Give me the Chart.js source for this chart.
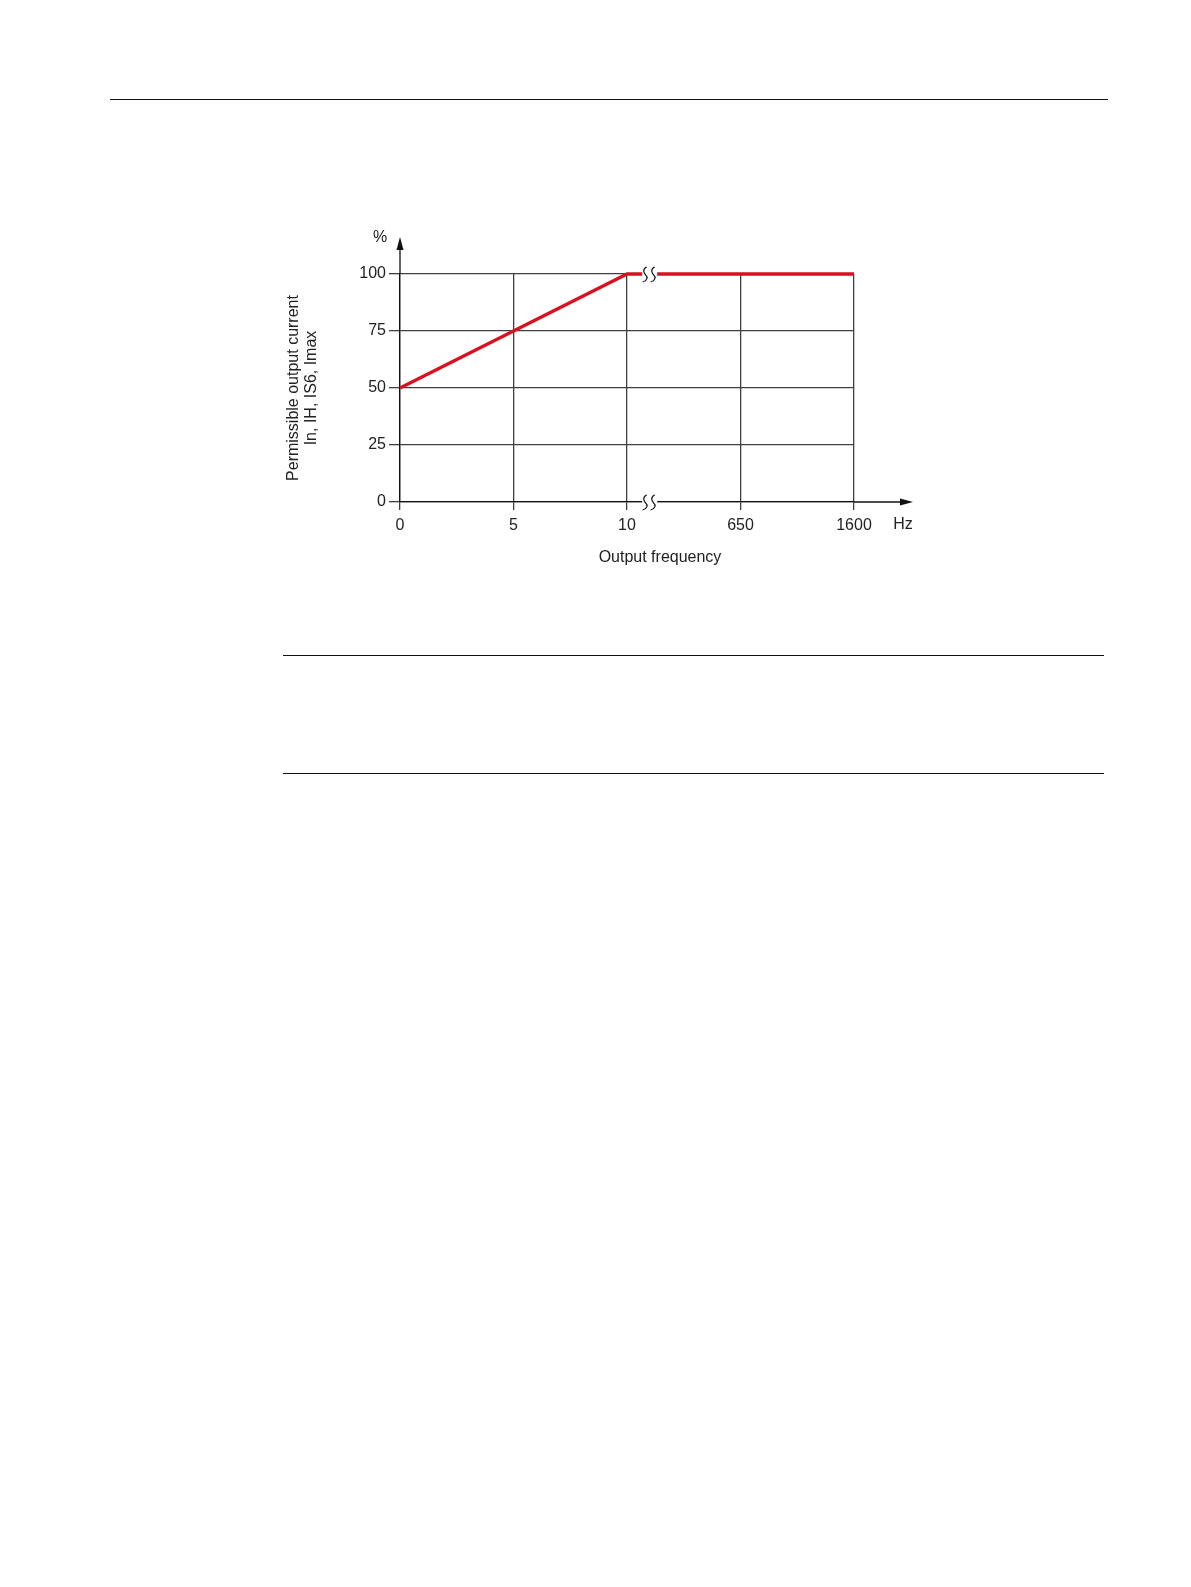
<!DOCTYPE html>
<html>
<head>
<meta charset="utf-8">
<script src="https://cdn.jsdelivr.net/npm/chart.js@4/dist/chart.umd.min.js"></script>
<style>
  html, body { margin: 0; padding: 0; background: #fff; }
  .page { position: relative; width: 1191px; height: 1587px; overflow: hidden; background: #fff; }
  .rule { position: absolute; height: 1px; background: #111; }
  .fig { position: absolute; left: 270px; top: 220px; width: 660px; height: 370px; }
</style>
</head>
<body>
<div class="page">
  <div class="rule" style="left:110px; top:99px; width:998px;"></div>
  <div class="fig"><canvas id="derating"></canvas></div>
  <div class="rule" style="left:283px; top:655px; width:821px;"></div>
  <div class="rule" style="left:283px; top:773px; width:821px;"></div>
</div>
<script>
// Output frequency (Hz) — axis is broken between 10 and 650, so categories
const freqLabels = ['0', '5', '10', '650', '1600'];
// Permissible output current In, IH, IS6, Imax (%)
const permissibleCurrent = [50, 75, 100, 100, 100];
const yTitleLines = ['Permissible output current', 'In, IH, IS6, Imax'];

const FONT = "'Liberation Sans', Arial, sans-serif";
const TXT = '#222';
const GRID = '#404040';
const RED = '#d81020';

// arrows, axis break marks and loose labels
const extras = {
  id: 'extras',
  afterDraw(chart) {
    const { ctx, chartArea: a, scales: { x, y } } = chart;
    ctx.save();
    ctx.strokeStyle = '#111';
    ctx.fillStyle = '#111';
    ctx.lineWidth = 1.3;

    // y axis arrow
    ctx.beginPath(); ctx.moveTo(a.left, a.top); ctx.lineTo(a.left, a.top - 30); ctx.stroke();
    ctx.beginPath(); ctx.moveTo(a.left, a.top - 37); ctx.lineTo(a.left - 3.5, a.top - 24);
    ctx.lineTo(a.left + 3.5, a.top - 24); ctx.closePath(); ctx.fill();
    // x axis arrow
    ctx.beginPath(); ctx.moveTo(a.right, a.bottom); ctx.lineTo(a.right + 50, a.bottom); ctx.stroke();
    ctx.beginPath(); ctx.moveTo(a.right + 59, a.bottom); ctx.lineTo(a.right + 46, a.bottom - 3.5);
    ctx.lineTo(a.right + 46, a.bottom + 3.5); ctx.closePath(); ctx.fill();

    // break marks between 10 and 650
    const x10 = x.getPixelForTick(2), x650 = x.getPixelForTick(3);
    const bx = x10 + (x650 - x10) * 0.16;
    [y.getPixelForValue(100), y.getPixelForValue(0)].forEach(py => {
      ctx.fillStyle = '#fff';
      ctx.fillRect(bx - 3, py - 3, 15, 6);
      ctx.strokeStyle = '#111';
      ctx.lineWidth = 1.2;
      [bx, bx + 8].forEach(sx => {
        ctx.beginPath();
        ctx.moveTo(sx + 1.5, py - 7);
        ctx.bezierCurveTo(sx - 3, py - 5, sx - 1.5, py - 1, sx + 0.5, py + 1);
        ctx.bezierCurveTo(sx + 3, py + 3, sx + 2, py + 7, sx - 2.5, py + 8);
        ctx.stroke();
      });
    });

    ctx.fillStyle = TXT;
    ctx.font = '16px ' + FONT;
    ctx.textAlign = 'center';
    ctx.textBaseline = 'middle';
    ctx.fillText('%', a.left - 20, a.top - 36);
    ctx.fillText('Hz', a.right + 49, a.bottom + 23);
    ctx.fillText('Output frequency', (a.left + a.right) / 2 + 33, a.bottom + 56);
    ctx.restore();
  }
};

new Chart(document.getElementById('derating'), {
  type: 'line',
  data: {
    labels: freqLabels,
    datasets: [{
      data: permissibleCurrent,
      borderColor: RED,
      borderWidth: 3.3,
      pointRadius: 0,
      tension: 0,
      clip: false
    }]
  },
  options: {
    responsive: true,
    maintainAspectRatio: false,
    animation: false,
    devicePixelRatio: 1,
    layout: { padding: { left: 0, top: 54, right: 76, bottom: 0 } },
    plugins: { legend: { display: false }, tooltip: { enabled: false } },
    scales: {
      x: {
        offset: false,
        afterFit: s => { s.height = 88; },
        grid: { color: GRID, lineWidth: 1.3, tickLength: 8, drawTicks: true },
        border: { color: '#111', width: 1.3 },
        ticks: { color: TXT, font: { family: FONT, size: 16 }, padding: 6, autoSkip: false, maxRotation: 0 }
      },
      y: {
        min: 0, max: 100,
        afterFit: s => { s.width = 130; },
        grid: { color: GRID, lineWidth: 1.3, tickLength: 11 },
        border: { color: '#111', width: 1.3 },
        ticks: { stepSize: 25, color: TXT, font: { family: FONT, size: 16 }, padding: 3 },
        title: {
          display: true,
          text: yTitleLines,
          color: TXT,
          font: { family: FONT, size: 16, lineHeight: 1.125 },
          padding: { top: 15, bottom: 0 }
        }
      }
    }
  },
  plugins: [extras]
});
</script>
</body>
</html>
